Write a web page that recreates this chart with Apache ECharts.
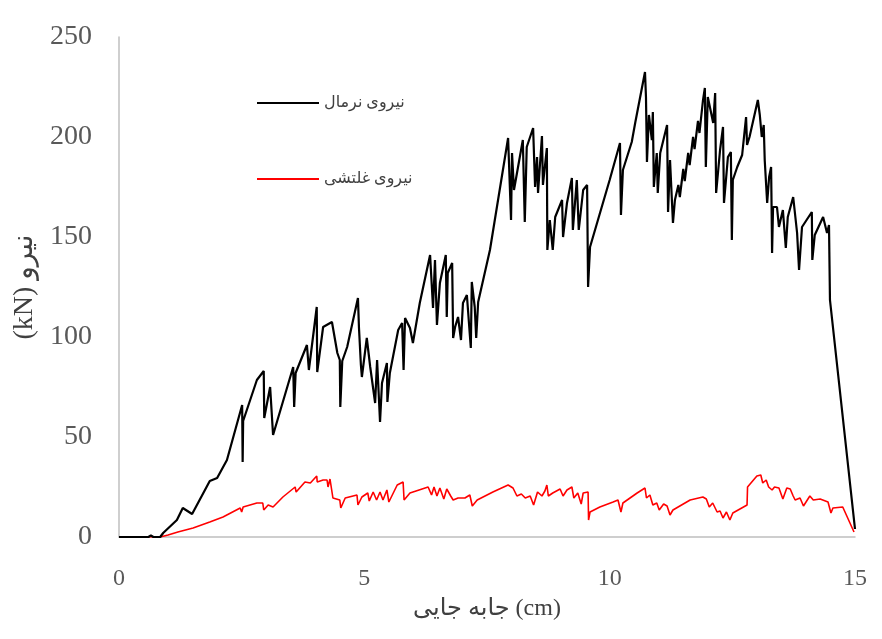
<!DOCTYPE html>
<html>
<head>
<meta charset="utf-8">
<script src="https://cdn.jsdelivr.net/npm/echarts@6/dist/echarts.min.js"></script>
<style>
  html, body { margin: 0; padding: 0; background: #fff; }
  #chart { width: 882px; height: 639px; }
</style>
</head>
<body>
<div id="chart"></div>
<script>
// Displacement (cm) vs. force (kN)
const normalName = 'نیروی نرمال';
const rollingName = 'نیروی غلتشی';
const xAxisTitle = 'جابه جایی (cm)';
const yAxisTitle = '(kN) نیرو';
const xTicks = [0, 5, 10, 15];
const yTicks = [0, 50, 100, 150, 200, 250];

// Normal force: [displacement cm, force kN]
const normalForce = [
  [0,0],[0.6,0],[0.65,0.8],[0.7,0],[0.84,0],[0.9,2],[1.18,8.5],[1.3,14.5],[1.49,11.5],[1.85,28],
  [2.0,29.5],[2.2,38.5],[2.51,66],[2.52,37.5],[2.53,58],[2.81,78.5],[2.95,83],[2.96,59.5],[3.08,75],
  [3.14,51],[3.18,50],[3.55,85],[3.57,65],[3.6,82],[3.83,96],[3.87,83.5],[4.03,115],[4.04,82.5],
  [4.16,105],[4.34,107.5],[4.45,92],[4.5,88.5],[4.51,65],[4.55,88],[4.65,95],[4.87,119.5],[4.89,105],
  [4.93,86],[4.95,80],[5.05,99.5],[5.12,85],[5.22,67],[5.26,88.5],[5.32,57.5],[5.36,77],[5.46,87],
  [5.47,67.5],[5.52,82],[5.69,103.5],[5.77,107],[5.8,83.5],[5.83,109.5],[5.93,104.5],[5.99,97],
  [6.13,117],[6.34,141],[6.4,114.5],[6.44,138.5],[6.48,106],[6.54,127],[6.66,141],[6.68,110],[6.7,132],
  [6.79,137],[6.81,99.5],[6.85,105],[6.91,110],[6.97,98.5],[7.01,117],[7.09,121],[7.17,94.5],[7.19,127.5],
  [7.25,115],[7.28,99.5],[7.32,117.5],[7.56,143.5],[7.93,199.5],[7.99,158.5],[8.01,192],[8.05,173.5],
  [8.23,198.5],[8.27,157.5],[8.31,195],[8.44,204.5],[8.48,175],[8.52,190],[8.54,172],[8.62,200.5],
  [8.64,176],[8.72,194.5],[8.73,143.5],[8.78,158.5],[8.84,143.5],[8.89,160],[9.03,168.5],[9.05,150],
  [9.13,167],[9.23,179.5],[9.25,153.5],[9.33,178.5],[9.37,153.5],[9.46,173.5],[9.54,176],[9.56,125],
  [9.6,145],[9.94,173.5],[10.0,178.5],[10.21,197],[10.23,161],[10.27,183.5],[10.45,197.5],[10.52,207],
  [10.72,232.5],[10.74,220],[10.76,187.5],[10.8,211],[10.86,198.5],[10.88,212.5],[10.9,175],[10.96,192],
  [10.98,172],[11.03,192],[11.17,206],[11.19,162.5],[11.23,188.5],[11.29,157],[11.33,168.5],
  [11.4,176],[11.43,170],[11.5,184],[11.53,178],[11.6,192],[11.63,186],[11.7,200],[11.73,194],
  [11.8,208],[11.83,202],[11.9,218],[11.94,224.5],[11.96,185],[12.0,220],[12.11,207],[12.15,222],
  [12.17,172],[12.25,193.5],[12.31,205],[12.33,167],[12.41,190],[12.47,192.5],[12.49,148.5],[12.51,178.5],
  [12.6,185],[12.7,191],[12.78,210],[12.8,196],[12.85,200],[13.02,218.5],[13.06,211],[13.1,200],
  [13.14,206],[13.16,188.5],[13.21,167],[13.25,180],[13.29,185],[13.3,165],[13.31,142],[13.33,165],
  [13.41,165],[13.45,155],[13.53,163.5],[13.59,144.5],[13.63,160],[13.74,170],[13.82,152],[13.86,133.5],
  [13.92,155],[14.12,162.5],[14.13,138.5],[14.18,151],[14.35,160],[14.43,152],[14.47,156],[14.49,118.5],
  [15.0,4]
];

// Rolling force: [displacement cm, force kN]
const rollingForce = [
  [0,0],[0.84,0],[1.0,1],[1.2,2.5],[1.51,4.5],[1.85,7.5],[2.12,10],[2.47,14.5],[2.5,12.5],[2.53,15],
  [2.81,17],[2.93,17],[2.95,13.5],[3.04,16],[3.14,15],[3.34,20],[3.59,25],[3.61,22.5],[3.79,27.5],
  [3.9,27],[4.03,30.5],[4.04,27.5],[4.16,28.5],[4.24,28.5],[4.26,25],[4.3,29],[4.36,19.5],[4.5,18.5],
  [4.52,14.5],[4.61,19.5],[4.85,21],[4.87,16],[4.95,20],[5.07,22],[5.1,18],[5.18,22.5],[5.25,18.5],
  [5.32,22.5],[5.38,18.5],[5.46,23.5],[5.5,17.5],[5.67,26],[5.79,27.5],[5.81,18.5],[5.93,22],[6.3,25],
  [6.37,21],[6.42,25],[6.48,20.5],[6.54,24.5],[6.62,19],[6.68,24],[6.76,20.5],[6.81,18.5],[6.91,19.5],
  [7.05,19.5],[7.15,21],[7.2,15.5],[7.3,18.5],[7.62,22.5],[7.93,26],[8.03,24.5],[8.11,20.5],[8.2,21.5],
  [8.28,19.5],[8.38,20.5],[8.45,16],[8.53,22.5],[8.62,20.5],[8.68,23],[8.72,26],[8.75,20.5],[8.84,22],
  [8.99,24],[9.05,20.5],[9.13,23.5],[9.23,25],[9.27,19.5],[9.35,22],[9.42,16.5],[9.46,22],[9.56,22.5],
  [9.57,8.5],[9.6,12.5],[9.8,15],[10.07,17.5],[10.17,18.5],[10.23,12.5],[10.27,17],[10.56,22],
  [10.72,24.5],[10.75,19.5],[10.82,21],[10.88,16],[10.96,17],[11.01,13.5],[11.1,16.5],[11.17,15.5],
  [11.23,11],[11.29,13.5],[11.64,18.5],[11.9,20],[11.97,19],[12.03,15],[12.1,17],[12.19,12.5],
  [12.25,13],[12.31,9.5],[12.38,12.5],[12.45,8.5],[12.51,12],[12.8,16],[12.81,25],[13.0,30.5],
  [13.08,31],[13.12,27],[13.19,28.5],[13.24,25],[13.31,23.5],[13.36,25],[13.45,24.5],[13.53,19],
  [13.61,24.5],[13.68,24],[13.74,20.5],[13.78,18.5],[13.88,19.5],[13.95,15.5],[14.08,20.5],[14.15,18.5],
  [14.29,19],[14.45,17.5],[14.49,17.5],[14.51,12],[14.55,14.5],[14.75,15],[14.98,2.5]
];

const serif = '"Liberation Serif", "Times New Roman", "DejaVu Sans", serif';

const chart = echarts.init(document.getElementById('chart'), null, { renderer: 'canvas' });
chart.setOption({
  animation: false,
  backgroundColor: '#ffffff',
  grid: { left: 119, right: 27, top: 37, bottom: 102, containLabel: false },
  legend: {
    orient: 'vertical',
    left: 252,
    top: 90,
    itemWidth: 62,
    itemHeight: 14,
    itemGap: 60,
    icon: 'path://M0,6H62V8H0Z',
    textStyle: { fontFamily: serif, fontSize: 16, color: '#404040' },
    data: [normalName, rollingName]
  },
  xAxis: {
    type: 'value',
    min: xTicks[0],
    max: xTicks[xTicks.length - 1],
    interval: 5,
    name: xAxisTitle,
    nameLocation: 'middle',
    nameGap: 60,
    nameTextStyle: { fontFamily: serif, fontSize: 24, color: '#404040' },
    axisLine: { show: true, onZero: false, lineStyle: { color: '#bfbfbf', width: 1.5 } },
    axisTick: { show: false },
    splitLine: { show: false },
    axisLabel: { fontFamily: serif, fontSize: 24, color: '#595959', margin: 30 }
  },
  yAxis: {
    type: 'value',
    min: yTicks[0],
    max: yTicks[yTicks.length - 1],
    interval: 50,
    name: yAxisTitle,
    nameLocation: 'middle',
    nameRotate: 90,
    nameGap: 76,
    nameTextStyle: { fontFamily: serif, fontSize: 28, color: '#404040' },
    axisLine: { show: true, lineStyle: { color: '#bfbfbf', width: 1.5 } },
    axisTick: { show: false },
    splitLine: { show: false },
    axisLabel: { fontFamily: serif, fontSize: 28, color: '#595959', margin: 27 }
  },
  series: [
    {
      name: normalName,
      type: 'line',
      data: normalForce,
      symbol: 'none',
      showSymbol: false,
      color: '#000000',
      lineStyle: { color: '#000000', width: 2.2 },
      z: 3
    },
    {
      name: rollingName,
      type: 'line',
      data: rollingForce,
      symbol: 'none',
      showSymbol: false,
      color: '#ff0000',
      lineStyle: { color: '#ff0000', width: 1.6 },
      z: 2
    }
  ]
});
</script>
</body>
</html>
